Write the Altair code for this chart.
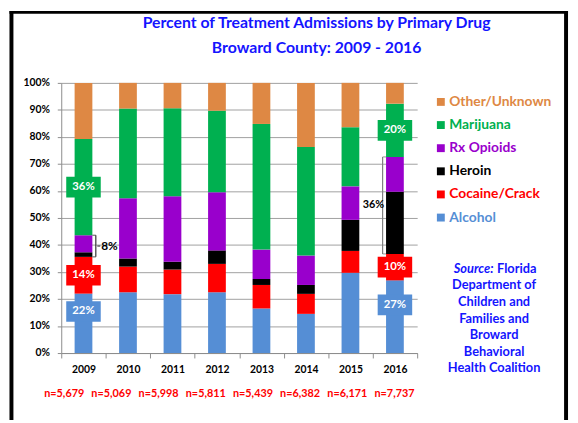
import altair as alt
import pandas as pd

# ---------------- data ----------------
YEARS = ["2009", "2010", "2011", "2012", "2013", "2014", "2015", "2016"]
DRUGS = ["Alcohol", "Cocaine/Crack", "Heroin", "Rx Opioids", "Marijuana", "Other/Unknown"]
ALCOHOL = [22.0, 22.5, 21.8, 22.5, 16.5, 14.5, 29.7, 26.9]
COCAINE = [13.6, 9.5, 9.1, 10.5, 8.7, 7.4, 8.1, 9.8]
HEROIN = [1.7, 3.0, 2.9, 5.0, 2.2, 3.3, 11.5, 23.0]
RX_OPIOIDS = [6.3, 22.3, 24.2, 21.5, 10.9, 10.9, 12.4, 12.9]
MARIJUANA = [35.6, 33.2, 32.6, 30.2, 46.5, 40.2, 21.9, 19.7]
OTHER = [20.8, 9.5, 9.4, 10.3, 15.2, 23.7, 16.4, 7.7]
N_LABELS = ["n=5,679", "n=5,069", "n=5,998", "n=5,811", "n=5,439", "n=6,382", "n=6,171", "n=7,737"]
LABELED_YEARS = ["2009", "2016"]
TITLE_LINES = ["Percent of Treatment Admissions by Primary Drug", "Broward County: 2009 - 2016"]
SOURCE_FIRST = ["Source:", "Florida"]
SOURCE_LINES = ["Department of", "Children and", "Families and", "Broward", "Behavioral", "Health Coalition"]
Y_TICKS = [0, 10, 20, 30, 40, 50, 60, 70, 80, 90, 100]

# ---------------- styles ----------------
COLORS = ["#558ED5", "#FF0000", "#000000", "#9900CC", "#00B050", "#DE8844"]
FONT = "Lato"
BLUE = "#1414FF"
GRID = "#A0A0A0"
AXIS = "#8C8C8C"

series = dict(zip(DRUGS, [ALCOHOL, COCAINE, HEROIN, RX_OPIOIDS, MARIJUANA, OTHER]))
rows = []
for i, yr in enumerate(YEARS):
    base = 0.0
    for d in DRUGS:
        v = series[d][i]
        rows.append({"year": yr, "drug": d, "value": v, "y0": base, "y1": base + v, "mid": base + v / 2})
        base += v
df = pd.DataFrame(rows)

lab = df[df["year"].isin(LABELED_YEARS) & df["drug"].isin(["Alcohol", "Cocaine/Crack", "Marijuana"])].copy()
lab["label"] = lab["value"].round().astype(int).astype(str) + "%"
lab_alc = lab[lab["drug"] == "Alcohol"]
lab_oth = lab[lab["drug"] != "Alcohol"]

br_rows = []
for yr in LABELED_YEARS:
    sub = df[(df["year"] == yr) & df["drug"].isin(["Heroin", "Rx Opioids"])]
    lo, hi = sub["y0"].min(), sub["y1"].max()
    br_rows.append({"year": yr, "lo": lo, "hi": hi, "mid": (lo + hi) / 2,
                    "label": f"{round(sub['value'].sum())}%"})
brk = pd.DataFrame(br_rows)

color = alt.Color("drug:N", scale=alt.Scale(domain=DRUGS, range=COLORS), legend=None)

X = alt.X("year:N", sort=YEARS, title=None,
          scale=alt.Scale(paddingInner=0, paddingOuter=0),
          axis=alt.Axis(tickBand="extent", labelAngle=0, labelFont=FONT, labelFontWeight="bold",
                        labelFontSize=10.5, labelColor="black", domainColor=AXIS, tickColor=AXIS,
                        tickSize=5, labelPadding=7, grid=False, labelOverlap=False))
Y_AX = alt.Axis(values=Y_TICKS, labelExpr="datum.value + '%'", title=None, labelOverlap=False,
                labelFont=FONT, labelFontWeight="bold", labelFontSize=10.5, labelColor="black",
                grid=True, gridColor=GRID, domainColor=AXIS, tickColor=AXIS, tickSize=4, labelPadding=8)
YS = alt.Scale(domain=[0, 100], nice=False, zero=True)


def Yq(field):
    return alt.Y(field, type="quantitative", scale=YS, axis=Y_AX, title=None)


bars = alt.Chart(df).mark_bar(width=18).encode(x=X, y=Yq("y0"), y2="y1:Q", color=color)

BOX = "M-1,-0.6L1,-0.6L1,0.6L-1,0.6Z"


def label_layer(data, yoff):
    box = alt.Chart(data).mark_point(shape=BOX, size=1225, filled=True, opacity=1,
                                     strokeWidth=0, yOffset=yoff).encode(x=X, y=Yq("mid"), color=color)
    txt = alt.Chart(data).mark_text(color="white", font=FONT, fontWeight="bold", fontSize=11.5,
                                    yOffset=yoff).encode(x=X, y=Yq("mid"), text="label:N")
    return [box, txt]


def bracket_layer(data, side, col):
    s = 1 if side == "right" else -1
    vline = alt.Chart(data).mark_rule(color=col, strokeWidth=1.2, xOffset=s * 12.5).encode(
        x=X, y=Yq("lo"), y2="hi:Q")
    t_lo = alt.Chart(data).mark_tick(color=col, thickness=1.2, size=3.5, orient="horizontal",
                                     xOffset=s * 10.75).encode(x=X, y=Yq("lo"))
    t_hi = alt.Chart(data).mark_tick(color=col, thickness=1.2, size=3.5, orient="horizontal",
                                     xOffset=s * 10.75).encode(x=X, y=Yq("hi"))
    out = [vline, t_lo, t_hi]
    if side == "right":
        out.append(alt.Chart(data).mark_tick(color="black", thickness=1.2, size=3, orient="horizontal",
                                             xOffset=15.5).encode(x=X, y=Yq("mid")))
        out.append(alt.Chart(data).mark_text(align="left", baseline="middle", font=FONT, fontWeight="bold",
                                             fontSize=12, color="black", xOffset=18).encode(
            x=X, y=Yq("mid"), text="label:N"))
    else:
        out.append(alt.Chart(data).mark_text(align="right", baseline="middle", font=FONT, fontWeight="bold",
                                             fontSize=11, color="black", xOffset=-11).encode(
            x=X, y=Yq("mid"), text="label:N"))
    return out


inner = alt.layer(
    bars,
    *label_layer(lab_oth, 0),
    *label_layer(lab_alc, -12),
    *bracket_layer(brk[brk["year"] == "2009"], "right", "#333333"),
    *bracket_layer(brk[brk["year"] == "2016"], "left", "#808080"),
)

# legend
leg_df = pd.DataFrame({"drug": DRUGS[::-1]})
LY = alt.Y("drug:N", sort=DRUGS[::-1], axis=None,
           scale=alt.Scale(type="point", range=[19.3, 136.6], padding=0))
leg = alt.layer(
    alt.Chart(leg_df).mark_square(size=64, opacity=1).encode(x=alt.value(385), y=LY, color=color),
    alt.Chart(leg_df).mark_text(align="left", baseline="middle", font=FONT, fontWeight="bold",
                                fontSize=14).encode(x=alt.value(393.5), y=LY, color=color, text="drug:N"),
)

# n labels
ndf = pd.DataFrame({"year": YEARS, "n": N_LABELS})
nlab = alt.Chart(ndf).mark_text(color="#FF0000", font=FONT, fontWeight="bold", fontSize=11,
                                baseline="middle").encode(
    x=alt.X("year:N", sort=YEARS, axis=None, scale=alt.Scale(type="point", range=[3, 338], padding=0)),
    y=alt.value(316), text="n:N")

one = pd.DataFrame({"k": [0]})
title = alt.Chart(one).mark_text(text=TITLE_LINES, lineHeight=25.7, align="center", baseline="alphabetic",
                                 font=FONT, fontSize=16, fontWeight="bold", color=BLUE).encode(
    x=alt.value(259), y=alt.value(-56))
src1a = alt.Chart(one).mark_text(text=SOURCE_FIRST[0], align="right", baseline="alphabetic", font=FONT,
                                 fontSize=13, fontWeight="bold", fontStyle="italic", color=BLUE).encode(
    x=alt.value(438.5), y=alt.value(192.5))
src1b = alt.Chart(one).mark_text(text=SOURCE_FIRST[1], align="left", baseline="alphabetic", font=FONT,
                                 fontSize=13, fontWeight="bold", color=BLUE).encode(
    x=alt.value(442), y=alt.value(192.5))
src2 = alt.Chart(one).mark_text(text=SOURCE_LINES, lineHeight=16.8, align="center", baseline="alphabetic",
                                font=FONT, fontSize=13, fontWeight="bold", color=BLUE).encode(
    x=alt.value(439), y=alt.value(209.5))

frame_l = alt.Chart(one).mark_rule(color="black", strokeWidth=4).encode(
    x=alt.value(-50.5), y=alt.value(-73), y2=alt.value(342))
frame_r = alt.Chart(one).mark_rule(color="black", strokeWidth=4).encode(
    x=alt.value(512), y=alt.value(-73), y2=alt.value(342))
frame_t = alt.Chart(one).mark_rule(color="black", strokeWidth=3).encode(
    x=alt.value(-52.5), x2=alt.value(514), y=alt.value(-71.5))

chart = alt.layer(inner, leg, nlab, title, src1a, src1b, src2, frame_l, frame_r, frame_t).resolve_scale(
    x="independent", y="independent"
).properties(
    width=361, height=274,
    autosize=alt.AutoSizeParams(type="none"),
    padding={"left": 54, "top": 73, "right": 155, "bottom": 68},
    background="white",
).configure_view(stroke=None)

chart.save("out.html", embed_options={"renderer": "svg", "actions": False})
